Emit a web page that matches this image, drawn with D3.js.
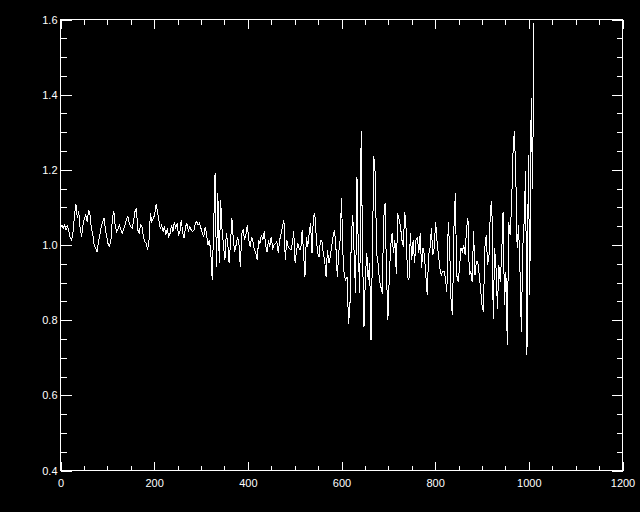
<!DOCTYPE html>
<meta charset="utf-8">
<script src="https://cdn.jsdelivr.net/npm/d3@7"></script>
<style>
  html, body { margin: 0; padding: 0; background: #000; }
  svg { display: block; }
  .axis text { font-family: "Liberation Sans", "DejaVu Sans", sans-serif; font-size: 11px; fill: #fff; }
  .axis line { stroke: #fff; }
</style>
<div id="chart"></div>
<script>

// samples are every 3 units along x, starting at 0
var xStep = 3;

// value readings, 0..255
var valuesA = [
  1.049,1.053,1.044,1.053,1.040,1.049,1.036,1.018,1.013,1.036,
  1.080,1.108,1.071,1.089,1.044,1.022,1.053,1.071,1.080,1.062,
  1.093,1.080,1.044,1.027,1.000,0.991,0.982,1.009,1.027,1.049,
  1.062,1.071,1.040,1.022,1.000,0.996,1.018,1.076,1.089,1.049,
  1.036,1.044,1.053,1.040,1.031,1.044,1.053,1.071,1.076,1.058,
  1.049,1.044,1.062,1.089,1.098,1.040,1.031,1.053,1.049,1.022,
  1.009,1.004,0.987,1.013,1.084,1.062,1.071,1.080,1.108,1.089,
  1.067,1.044,1.053,1.036,1.049,1.027,1.044,1.022,1.031,1.053,
  1.036,1.062,1.044,1.058,1.027,1.036
];

// 258..510
var valuesB = [
  1.067,1.031,1.018,1.049,1.058,1.036,1.049,1.040,1.036,1.040,
  1.058,1.062,1.053,1.058,1.044,1.031,1.022,1.049,1.027,1.000,
  1.013,0.978,0.907,1.049,1.191,0.942,1.138,0.951,1.120,1.040,
  1.000,0.960,1.031,1.009,0.951,1.004,1.071,1.013,0.982,1.000,
  1.022,1.004,0.942,1.031,1.040,1.013,1.027,1.053,1.013,0.996,
  1.022,1.009,0.987,0.978,0.960,1.013,1.004,1.027,1.013,1.036,
  1.000,0.982,1.013,0.996,1.022,0.991,1.000,1.004,1.009,0.978,
  1.013,1.031,1.049,1.067,0.960,1.013,0.996,0.991,0.987,1.004,
  1.036,0.951,0.987,1.004,0.987
];

// 513..768
var valuesC = [
  0.987,1.040,0.978,0.916,1.022,0.996,1.031,1.058,0.978,1.076,
  1.084,1.022,0.978,0.969,1.013,1.013,0.978,0.960,0.916,0.987,
  0.951,0.969,0.996,1.022,1.040,0.996,0.916,0.978,1.013,1.124,
  0.978,0.916,0.907,0.916,0.791,0.836,1.022,1.080,0.978,0.871,
  1.182,0.978,0.871,1.302,0.978,0.782,0.916,0.978,0.907,0.951,
  0.747,0.978,1.236,1.191,0.978,0.951,0.907,0.889,0.871,1.067,
  1.111,0.933,0.800,0.916,0.996,1.031,0.978,1.013,0.924,1.084,
  1.067,1.049,1.013,0.996,1.089,1.040,0.916,0.907,1.031,0.960,
  1.013,0.951,1.013,1.022,0.978,1.031
];

// 771..1011
var valuesD = [
  0.938,0.991,0.973,0.920,0.867,0.973,0.991,1.044,0.973,0.991,
  1.062,1.009,0.973,0.938,0.920,0.929,0.929,0.911,0.876,1.062,
  0.991,0.849,0.813,1.044,1.138,0.920,0.902,0.938,0.991,0.982,
  1.000,0.973,1.044,1.071,0.920,0.929,0.902,1.036,0.920,0.956,
  0.956,0.920,0.884,0.840,0.822,0.991,1.027,0.947,0.973,1.098,
  1.116,0.804,0.991,0.938,0.831,0.947,0.902,0.973,1.089,0.840,
  0.929,0.733,1.062,1.027,1.098,1.240,1.302,1.196,0.991,1.053,
  0.938,0.769,0.991,1.062,1.196,0.707,1.240,0.867,1.390,1.150,
  1.590
];

var xTicks = [0, 200, 400, 600, 800, 1000, 1200];
var yTicks = [0.4, 0.6, 0.8, 1.0, 1.2, 1.4, 1.6];

var values = valuesA.concat(valuesB, valuesC, valuesD);
var series = values.map(function(v, i) { return {x: i * xStep, y: v}; });

var W = 640, H = 512;
var box = {left: 60.5, right: 622.5, top: 19.5, bottom: 470.5};

var svg = d3.select("#chart")
  .append("svg")
    .attr("width", W)
    .attr("height", H)
    .style("background", "#000");

var x = d3.scaleLinear().domain([0, 1200]).range([box.left, box.right]);
var y = d3.scaleLinear().domain([0.4, 1.6]).range([box.bottom, box.top]);

var xMinor = d3.range(0, 1201, 50).filter(function(d) { return d % 200 !== 0; });
var yMinor = d3.range(0, 25).map(function(i) { return +(0.4 + i * 0.05).toFixed(2); })
  .filter(function(d) { return Math.abs(d * 5 - Math.round(d * 5)) > 1e-6; });

// major ticks with labels (inward)
svg.append("g").attr("class", "axis")
  .attr("transform", "translate(0," + box.bottom + ")")
  .call(d3.axisBottom(x).tickValues(xTicks).tickFormat(d3.format("d"))
    .tickSizeInner(-9).tickSizeOuter(0).tickPadding(9));
svg.append("g").attr("class", "axis")
  .attr("transform", "translate(0," + box.bottom + ")")
  .call(d3.axisBottom(x).tickValues(xMinor).tickFormat("").tickSizeInner(-5).tickSizeOuter(0));

svg.append("g").attr("class", "axis")
  .attr("transform", "translate(0," + box.top + ")")
  .call(d3.axisTop(x).tickValues(xTicks).tickFormat("").tickSizeInner(-9).tickSizeOuter(0));
svg.append("g").attr("class", "axis")
  .attr("transform", "translate(0," + box.top + ")")
  .call(d3.axisTop(x).tickValues(xMinor).tickFormat("").tickSizeInner(-5).tickSizeOuter(0));

svg.append("g").attr("class", "axis")
  .attr("transform", "translate(" + box.left + ",0)")
  .call(d3.axisLeft(y).tickValues(yTicks).tickFormat(d3.format(".1f"))
    .tickSizeInner(-11).tickSizeOuter(0).tickPadding(3));
svg.append("g").attr("class", "axis")
  .attr("transform", "translate(" + box.left + ",0)")
  .call(d3.axisLeft(y).tickValues(yMinor).tickFormat("").tickSizeInner(-6).tickSizeOuter(0));

svg.append("g").attr("class", "axis")
  .attr("transform", "translate(" + box.right + ",0)")
  .call(d3.axisRight(y).tickValues(yTicks).tickFormat("").tickSizeInner(-11).tickSizeOuter(0));
svg.append("g").attr("class", "axis")
  .attr("transform", "translate(" + box.right + ",0)")
  .call(d3.axisRight(y).tickValues(yMinor).tickFormat("").tickSizeInner(-6).tickSizeOuter(0));

svg.selectAll(".axis .domain").remove();
svg.selectAll(".axis line").attr("shape-rendering", "crispEdges");

// plot frame
svg.append("rect")
  .attr("x", box.left)
  .attr("y", box.top)
  .attr("width", box.right - box.left)
  .attr("height", box.bottom - box.top)
  .attr("fill", "none")
  .attr("stroke", "#fff")
  .attr("shape-rendering", "crispEdges");

// the data line
var line = d3.line()
  .x(function(d) { return x(d.x); })
  .y(function(d) { return y(d.y); });

svg.append("path")
  .datum(series)
  .attr("d", line)
  .attr("fill", "none")
  .attr("stroke", "#fff")
  .attr("stroke-width", 1)
  .attr("shape-rendering", "crispEdges");

</script>
